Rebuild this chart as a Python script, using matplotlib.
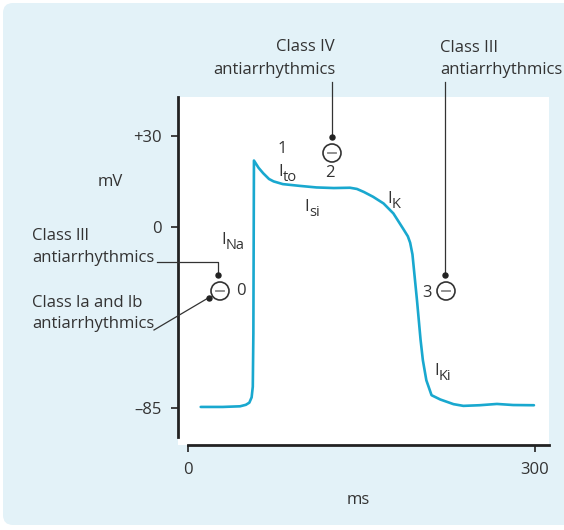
import numpy as np
import matplotlib
matplotlib.use("Agg")
import matplotlib.pyplot as plt
from matplotlib.patches import FancyBboxPatch, Circle

plt.rcParams['font.family'] = ['Open Sans', 'DejaVu Sans']

# ---- data ----
time_ms = [11, 30, 45, 50, 53, 55, 56, 56.5, 57, 61, 65, 70, 74, 82, 97, 111, 126, 140,
           146, 152, 160, 169, 177.5, 186, 190, 192, 194, 196, 198, 199.5, 201, 203, 206,
           210.5, 218, 229.5, 238, 252, 267, 281, 299]
voltage_mv = [-84.5, -84.5, -84.2, -83.5, -82.5, -80, -75, -50, 21.9, 19.5, 17.7, 15.8, 15.0,
              14.1, 13.5, 13.0, 12.8, 12.9, 12.5, 11.5, 9.9, 7.7, 4.4, -1.0, -4.5, -7.5, -13,
              -24, -35, -44, -53, -62.6, -72, -79, -81, -83.2, -84, -83.7, -83.1, -83.6, -83.7]
y_ticks = [30, 0, -85]
y_tick_labels = ['+30', '0', '–85']
x_ticks = [0, 300]
x_tick_labels = ['0', '300']

TXT = '#333333'
CURVE = '#19a8cf'
BG = '#e3f2f8'
W, H = 564, 530

fig = plt.figure(figsize=(W / 100, H / 100), dpi=100)
fig.patch.set_facecolor('white')

# background panel (pixel coordinates)
bg = fig.add_axes([0, 0, 1, 1], zorder=0)
bg.set_xlim(0, W); bg.set_ylim(H, 0); bg.axis('off')
bg.add_patch(FancyBboxPatch((3 + 8, 3 + 8), W + 20, H - 6 - 16 - 2,
                            boxstyle='round,pad=8,rounding_size=10',
                            fc=BG, ec='none'))

# main axes
L, R, T, B = 178, 549, 97, 445
ax = fig.add_axes([L / W, 1 - B / H, (R - L) / W, (B - T) / H], zorder=1)
ax.set_facecolor('white')

a_up, a_dn = 3.02, 2.133
def fwd(v):
    v = np.asarray(v, dtype=float)
    return np.where(v >= 0, v * a_up, v * a_dn)
def inv(u):
    u = np.asarray(u, dtype=float)
    return np.where(u >= 0, u / a_up, u / a_dn)
ax.set_yscale('function', functions=(fwd, inv))

x0 = 188
px_per_ms = 1.157
ax.set_xlim((L - x0) / px_per_ms, (R - x0) / px_per_ms)
y0 = 226.7
ax.set_ylim(-(B - y0) / a_dn, (y0 - T) / a_up)

ax.plot(time_ms, voltage_mv, color=CURVE, lw=1.9, solid_joinstyle='round',
        solid_capstyle='round', zorder=3)

for s in ['top', 'right']:
    ax.spines[s].set_visible(False)
ax.spines['left'].set_linewidth(2.0)
ax.spines['bottom'].set_linewidth(2.0)
ax.spines['left'].set_color('#222222')
ax.spines['bottom'].set_color('#222222')
ax.spines['left'].set_bounds(-(437 - y0) / a_dn, (y0 - T) / a_up)
ax.spines['bottom'].set_bounds(0, (R - x0) / px_per_ms)
ax.spines['bottom'].set_position(('outward', 0))

ax.set_yticks(y_ticks)
ax.set_yticklabels(y_tick_labels)
ax.set_xticks(x_ticks)
ax.set_xticklabels(x_tick_labels)
ax.yaxis.set_minor_locator(matplotlib.ticker.NullLocator())
ax.tick_params(axis='both', direction='out', length=5, width=1.2, color='#222222',
               labelsize=12, labelcolor=TXT, pad=7)

# annotation layer (pixel coordinates)
an = fig.add_axes([0, 0, 1, 1], zorder=3)
an.set_xlim(0, W); an.set_ylim(H, 0); an.axis('off')
an.patch.set_alpha(0)

FS = 12
def txt(x, y, s, ha='left', va='center', size=FS):
    an.text(x, y, s, ha=ha, va=va, fontsize=size, color=TXT)

def cur(x, y, main, sub):
    # x = left of "I", y = baseline
    an.text(x, y, main, ha='left', va='baseline', fontsize=FS, color=TXT)
    an.text(x + 5, y + 5, sub, ha='left', va='baseline', fontsize=10.5, color=TXT)

def block(x, y):
    an.add_patch(Circle((x, y), 9, fc='white', ec='#333333', lw=1.2, zorder=4))
    an.plot([x - 4, x + 4], [y, y], color='#888888', lw=1.3, zorder=5)

def dot(x, y):
    an.plot([x], [y], 'o', ms=3.6, color='#222222', zorder=5)

LINE = dict(color='#333333', lw=0.9, zorder=4)

# Class IV
txt(335, 47, 'Class IV', ha='right')
txt(335, 70, 'antiarrhythmics', ha='right')
an.plot([332, 332], [82, 137], **LINE); dot(332, 137); block(332, 153)

# Class III (right)
txt(440, 48, 'Class III')
txt(440, 70, 'antiarrhythmics')
an.plot([445, 445], [82, 275], **LINE); dot(445, 275); block(446, 291)
txt(427, 293, '3', ha='center')

# Class III (left)
txt(32, 236, 'Class lll')
txt(32, 258, 'antiarrhythmics')
an.plot([157, 218, 218], [262, 262, 275], **LINE); dot(218, 275); block(220, 291)
txt(241, 291, '0', ha='center')

# Class Ia and Ib
txt(32, 303, 'Class la and lb')
txt(32, 324, 'antiarrhythmics')
an.plot([154, 209], [330, 297.5], **LINE); dot(209, 297.5)

# phases and currents
txt(282, 149, '1', ha='center')
txt(330, 173, '2', ha='center')
cur(278, 176, 'I', 'to')
cur(304, 211, 'I', 'si')
cur(221, 244, 'I', 'Na')
cur(387, 203, 'I', 'K')
cur(434, 375, 'I', 'Ki')

txt(110, 182, 'mV', ha='center')
txt(358, 500, 'ms', ha='center')

fig.savefig('out.png', dpi=100)
